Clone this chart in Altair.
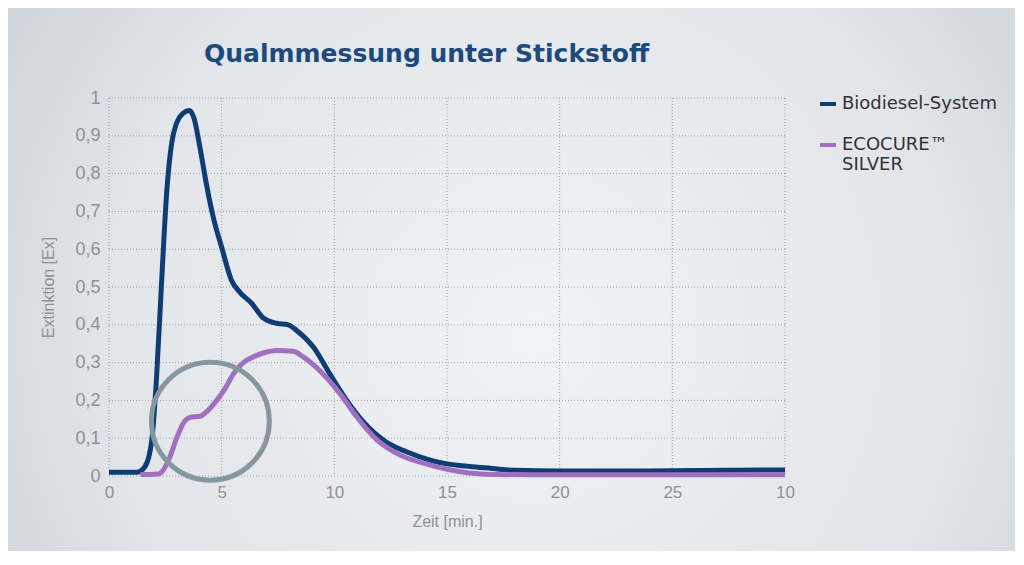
import altair as alt
import pandas as pd

# ---- data ----
bio_x = [0, 0.5, 1.0, 1.25, 1.6, 1.9, 2.1, 2.34, 2.56, 2.78, 3.0, 3.3, 3.56, 3.77, 4.04, 4.33, 4.63,
         5.0, 5.44, 5.81, 6.33, 6.85, 7.44, 7.96, 8.33, 9.07, 9.8, 10.55, 11.29, 12.3, 13.2, 14.25,
         15.0, 16.0, 17.0, 18.0, 20.0, 22.5, 25.0, 27.5, 30.0]
bio_y = [0.01, 0.01, 0.01, 0.01, 0.025, 0.095, 0.25, 0.52, 0.75, 0.88, 0.934, 0.96, 0.967, 0.947, 0.868, 0.77, 0.684,
         0.605, 0.517, 0.486, 0.457, 0.418, 0.404, 0.40, 0.385, 0.341, 0.27, 0.20, 0.143, 0.09, 0.064, 0.042,
         0.032, 0.025, 0.02, 0.015, 0.013, 0.013, 0.014, 0.015, 0.016]

eco_x = [1.4, 1.8, 2.19, 2.41, 2.7, 3.0, 3.3, 3.6, 4.04, 4.33, 4.78, 5.15, 5.52, 5.96, 6.4, 7.0, 7.44,
         8.18, 8.62, 9.5, 10.25, 11.0, 11.9, 12.77, 14.25, 15.0, 16.0, 17.0, 20.0, 25.0, 30.0]
eco_y = [0.004, 0.004, 0.005, 0.016, 0.05, 0.10, 0.14, 0.155, 0.158, 0.17, 0.20, 0.231, 0.27, 0.30, 0.315, 0.328, 0.332,
         0.33, 0.315, 0.27, 0.218, 0.156, 0.095, 0.06, 0.029, 0.018, 0.008, 0.004, 0.003, 0.003, 0.003]

series_names = ["Biodiesel-System", "ECOCURE™ SILVER"]
series_colors = ["#0e3d74", "#a06fc0"]

x_ticks = [0, 5, 10, 15, 20, 25, 30]
x_tick_labels = ["0", "5", "10", "15", "20", "25", "10"]
y_ticks = [0, 0.1, 0.2, 0.3, 0.4, 0.5, 0.6, 0.7, 0.8, 0.9, 1.0]

chart_title = "Qualmmessung unter Stickstoff"

# annotation circle (data coordinates)
circle_x = [4.5]
circle_y = [0.145]

rows = [{"t": x, "v": y, "s": series_names[0]} for x, y in zip(bio_x, bio_y)]
rows += [{"t": x, "v": y, "s": series_names[1]} for x, y in zip(eco_x, eco_y)]
df = pd.DataFrame(rows)
circ = pd.DataFrame({"t": circle_x, "v": circle_y})

W, H = 676, 378
GRID = "#8f949b"
LABEL = "#8c9197"
FONT = "Liberation Sans"

label_expr = " : ".join(
    [f"datum.value == {v} ? '{l}'" for v, l in zip(x_ticks, x_tick_labels)]
) + " : datum.label"

xscale = alt.Scale(domain=[0, 30], nice=False, zero=False)
yscale = alt.Scale(domain=[0, 1], nice=False)

x_axis = alt.Axis(values=x_ticks, labelExpr=label_expr, title="Zeit [min.]",
                  grid=False, domain=False, ticks=False, labelPadding=8, titlePadding=13,
                  labelFlush=False, labelOverlap=False,
                  labelFontSize=17, labelColor=LABEL, titleFontSize=16,
                  titleColor=LABEL, titleFontWeight="normal", zindex=2,
                  labelFont=FONT, titleFont=FONT)
y_axis = alt.Axis(values=y_ticks, labelExpr="replace(format(datum.value, '.1~f'), '.', ',')",
                  title="Extinktion [Ex]", grid=False, domain=False, ticks=False,
                  labelPadding=9, titlePadding=18, zindex=2,
                  labelFlush=False, labelOverlap=False,
                  labelFontSize=18, labelColor=LABEL, titleFontSize=16,
                  titleColor=LABEL, titleFontWeight="normal",
                  labelFont=FONT, titleFont=FONT)

bg = alt.Chart(pd.DataFrame({"a": [0]})).mark_rect(
    color=alt.Gradient(
        gradient="radial",
        stops=[alt.GradientStop(color="#f1f2f4", offset=0),
               alt.GradientStop(color="#e2e5e9", offset=0.55),
               alt.GradientStop(color="#c3c9d3", offset=1)],
        x1=0.52, y1=0.55, x2=0.52, y2=0.55, r1=0, r2=0.75,
    )
).encode(
    x=alt.value(-104), x2=alt.value(W + 236),
    y=alt.value(-93), y2=alt.value(H + 88),
)

title_mark = alt.Chart(pd.DataFrame({"txt": [chart_title]})).mark_text(
    align="left", baseline="alphabetic", fontSize=25, font="DejaVu Sans", fontWeight="bold", color="#1d4a7c"
).encode(text="txt:N", x=alt.value(95), y=alt.value(-36))

vgrid = alt.Chart(pd.DataFrame({"t": x_ticks})).mark_rule(
    strokeDash=[1, 2], color=GRID, opacity=0.85, strokeWidth=1
).encode(x=alt.X("t:Q", scale=xscale, axis=x_axis))
hgrid = alt.Chart(pd.DataFrame({"v": y_ticks})).mark_rule(
    strokeDash=[1, 2], color=GRID, opacity=0.85, strokeWidth=1
).encode(y=alt.Y("v:Q", scale=yscale, axis=y_axis))

lines = alt.Chart(df).mark_line(strokeWidth=5, interpolate="monotone").encode(
    x=alt.X("t:Q", scale=xscale, axis=x_axis),
    y=alt.Y("v:Q", scale=yscale, axis=y_axis),
    color=alt.Color("s:N", scale=alt.Scale(domain=series_names, range=series_colors),
                    legend=alt.Legend(title=None, orient="none", legendX=709, legendY=-4,
                                      symbolType="stroke", symbolSize=256, symbolStrokeWidth=4,
                                      labelFontSize=18, labelColor="#333333", labelFont="DejaVu Sans",
                                      labelLimit=250, rowPadding=22, labelOffset=4, zindex=2,
                                      labelExpr="datum.label == 'ECOCURE™ SILVER' ? ['ECOCURE™', 'SILVER'] : datum.label")),
)

ring = alt.Chart(circ).mark_point(shape="circle", filled=False, size=13900, strokeWidth=5,
                                   color="#8797a0", opacity=1).encode(
    x=alt.X("t:Q", scale=xscale, axis=x_axis), y=alt.Y("v:Q", scale=yscale, axis=y_axis)
)

chart = alt.layer(bg, title_mark, vgrid, hgrid, lines, ring).properties(
    width=W, height=H,
    autosize=alt.AutoSizeParams(type="none"),
    padding={"left": 101, "top": 90, "right": 230, "bottom": 75},
).configure_view(stroke=None).configure(background="#dfe2e7")

chart.save("out.html", embed_options={"renderer": "svg", "actions": False})
